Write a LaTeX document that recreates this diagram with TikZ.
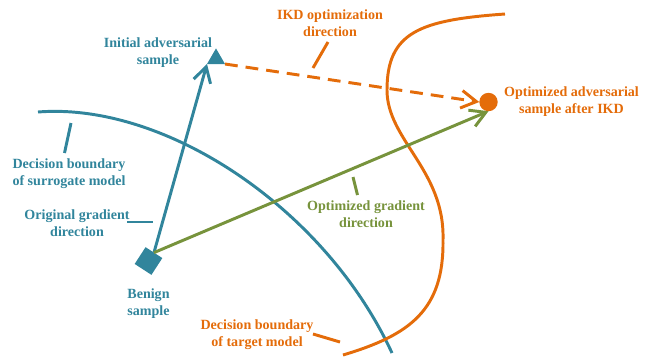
\documentclass[tikz,border=0pt]{standalone}
\usepackage{fontspec}
\setmainfont{Liberation Serif}
\usetikzlibrary{arrows.meta, positioning, shapes.geometric}

\definecolor{surrblue}{HTML}{31859C}
\definecolor{ikdorange}{HTML}{E46C0A}
\definecolor{gradgreen}{HTML}{77933C}

\begin{document}
\begin{tikzpicture}[
    x=0.25mm, y=-0.25mm,
    line/.style={line width=2.1pt},
    vec/.style={line width=2.1pt, -{Straight Barb[length=3.8mm, width=4.4mm]}},
    lbl/.style={align=center, font=\fontsize{10}{12}\selectfont\bfseries, inner sep=0pt},
    marker/.style={inner sep=0pt, outer sep=0pt}
]
\useasboundingbox (0,0) rectangle (651,358);

% Decision boundaries
\draw[line, surrblue] (38,112) .. controls (165,102) and (325,208) .. (392,353);
\draw[line, ikdorange] (505,14) .. controls (420,20) and (387,32) .. (387,90)
    .. controls (387,140) and (445,170) .. (443,240)
    .. controls (444,310) and (410,335) .. (343,355);

% Samples
\node[marker, regular polygon, regular polygon sides=3, minimum size=5.2mm, fill=surrblue] (initadv) at (216,58.8) {};
\node[marker, rectangle, minimum size=5mm, rotate=-33, fill=surrblue] (benign) at (148.5,261) {};
\node[marker, circle, minimum size=4.6mm, fill=ikdorange] (optadv) at (488.5,102) {};

% Arrows
\draw[vec, surrblue] (benign.north) -- (initadv.corner 2);
\draw[vec, gradgreen] (benign.north) -- (optadv.south);
\draw[vec, ikdorange, dash pattern=on 3.2mm off 2mm] (initadv.corner 3) -- (optadv.west);

% Labels
\node[lbl, surrblue] (initadvlabel) at (158,53) {Initial adversarial\\sample};
\node[lbl, ikdorange] (ikdlabel) at (330,23) {IKD optimization\\direction};
\node[lbl, ikdorange] (optadvlabel) at (571.5,101.5) {Optimized adversarial\\sample after IKD};
\node[lbl, surrblue] (surrlabel) at (69,174) {Decision boundary\\of surrogate model};
\node[lbl, surrblue] (origlabel) at (77,223) {Original gradient\\direction};
\node[lbl, gradgreen] (optgradlabel) at (366,214.5) {Optimized gradient\\direction};
\node[lbl, surrblue] (benignlabel) at (148.5,303.5) {Benign\\sample};
\node[lbl, ikdorange] (targetlabel) at (257,334.5) {Decision boundary\\of target model};

% Leader lines
\coordinate (surrA) at (71,123);
\coordinate (surrB) at (64.5,153);
\coordinate (origA) at (127,222);
\coordinate (origB) at (153,222);
\coordinate (ikdA) at (328,42);
\coordinate (ikdB) at (313,68);
\coordinate (optgradA) at (353,177);
\coordinate (optgradB) at (357.5,195);
\coordinate (targetA) at (313,334);
\coordinate (targetB) at (340,342);
\draw[line, surrblue] (surrA) -- (surrB);
\draw[line, surrblue] (origA) -- (origB);
\draw[line, ikdorange] (ikdA) -- (ikdB);
\draw[line, gradgreen] (optgradA) -- (optgradB);
\draw[line, ikdorange] (targetA) -- (targetB);

\end{tikzpicture}
\end{document}
